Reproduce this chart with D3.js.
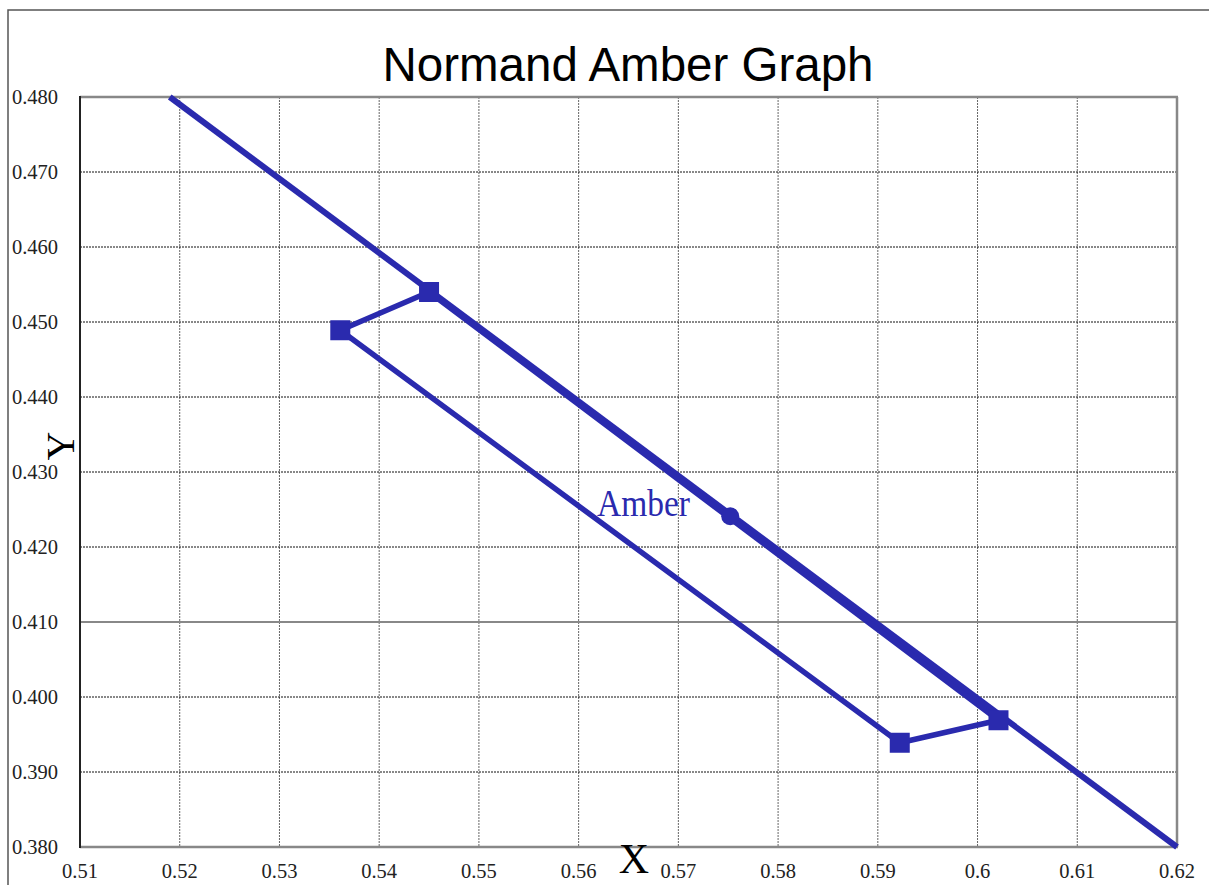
<!DOCTYPE html>
<html><head><meta charset="utf-8">
<script src="https://cdn.jsdelivr.net/npm/d3@7"></script>
<style>html,body{margin:0;padding:0;background:#fff;}svg{display:block;}</style>
</head><body>
<svg id="c" width="1209" height="885"></svg>
<script>
const xTicks = [0.51,0.52,0.53,0.54,0.55,0.56,0.57,0.58,0.59,0.6,0.61,0.62];
const yTicks = [0.380,0.390,0.400,0.410,0.420,0.430,0.440,0.450,0.460,0.470,0.480];
const boundaryX = [0.519, 0.62];
const boundaryY = [0.480, 0.380];
const polyX = [0.5361, 0.5450, 0.6021, 0.5922, 0.5361];
const polyY = [0.4489, 0.4540, 0.3969, 0.3939, 0.4489];
const centerX = [0.5752];
const centerY = [0.4241];
const labels = ["Amber"];

const svg = d3.select("#c");
const L=80,R=1177,T=97,B=847;
const x = d3.scaleLinear().domain([0.51,0.62]).range([L,R]);
const y = d3.scaleLinear().domain([0.38,0.48]).range([B,T]);
const col = "#2a2aae";

svg.append("rect").attr("x",8).attr("y",10).attr("width",1250).attr("height",950)
  .attr("fill","none").attr("stroke","#555").attr("stroke-width",1.5);

svg.append("text").attr("x",628).attr("y",81).attr("text-anchor","middle")
  .attr("font-family","Liberation Sans, Arial, sans-serif").attr("font-size",47.5).attr("fill","#000")
  .text("Normand Amber Graph");

// grid
const g = svg.append("g");
g.selectAll(".vg").data(xTicks.slice(1,-1)).join("line")
  .attr("x1",d=>x(d)).attr("x2",d=>x(d)).attr("y1",T).attr("y2",B)
  .attr("stroke","#666").attr("stroke-width",1).attr("stroke-dasharray","2,1");
g.selectAll(".hg").data(yTicks.slice(1,-1).filter(d=>Math.abs(d-0.41)>1e-6)).join("line")
  .attr("x1",L).attr("x2",R).attr("y1",d=>y(d)).attr("y2",d=>y(d))
  .attr("stroke","#111").attr("stroke-width",1).attr("stroke-dasharray","2,1");
g.append("line").attr("x1",L).attr("x2",R).attr("y1",y(0.41)).attr("y2",y(0.41))
  .attr("stroke","#888").attr("stroke-width",2);

// frame
g.append("line").attr("x1",L).attr("x2",R+1).attr("y1",T).attr("y2",T).attr("stroke","#888").attr("stroke-width",2.5);
g.append("line").attr("x1",L).attr("x2",R+1).attr("y1",B).attr("y2",B).attr("stroke","#888").attr("stroke-width",2.5);
g.append("line").attr("x1",R).attr("x2",R).attr("y1",T).attr("y2",B).attr("stroke","#888").attr("stroke-width",2.5);
g.append("line").attr("x1",L).attr("x2",L).attr("y1",T-1).attr("y2",B+1).attr("stroke","#222").attr("stroke-width",2);

// tick labels
svg.selectAll(".xl").data(xTicks).join("text")
  .attr("x",d=>x(d)).attr("y",878).attr("text-anchor","middle")
  .attr("font-family","Liberation Serif, Times New Roman, serif").attr("font-size",20.5).attr("fill","#222")
  .text(d=>d3.format("")(+d.toFixed(2)));
svg.selectAll(".yl").data(yTicks).join("text")
  .attr("x",58).attr("y",d=>y(d)+7).attr("text-anchor","end")
  .attr("font-family","Liberation Serif, Times New Roman, serif").attr("font-size",20.5).attr("fill","#222")
  .text(d=>d.toFixed(3));

// axis titles
svg.append("text").attr("x",634).attr("y",873).attr("text-anchor","middle")
  .attr("font-family","Liberation Serif, Times New Roman, serif").attr("font-size",42).attr("fill","#000").text("X");
svg.append("text").attr("transform","translate(74,446) rotate(-90)").attr("text-anchor","middle")
  .attr("font-family","Liberation Serif, Times New Roman, serif").attr("font-size",40).attr("fill","#000").text("Y");

// data
svg.append("clipPath").attr("id","pc").append("rect").attr("x",L).attr("y",T-3).attr("width",R-L+3).attr("height",B-T+6);
const line = d3.line().x(d=>x(d[0])).y(d=>y(d[1]));
svg.append("path").attr("clip-path","url(#pc)")
  .attr("d",line(boundaryX.map((v,i)=>[v,boundaryY[i]])))
  .attr("fill","none").attr("stroke",col).attr("stroke-width",6);
svg.append("path").attr("d",line(polyX.map((v,i)=>[v,polyY[i]])))
  .attr("fill","none").attr("stroke",col).attr("stroke-width",5.5).attr("stroke-linejoin","round");
svg.selectAll(".sq").data(polyX.slice(0,4).map((v,i)=>[v,polyY[i]])).join("rect")
  .attr("x",d=>x(d[0])-10).attr("y",d=>y(d[1])-10).attr("width",20).attr("height",20).attr("fill",col);
svg.selectAll(".ct").data(centerX.map((v,i)=>[v,centerY[i]])).join("circle")
  .attr("cx",d=>x(d[0])).attr("cy",d=>y(d[1])).attr("r",9).attr("fill",col);
svg.append("text").attr("x",597).attr("y",516)
  .attr("font-family","Liberation Serif, Times New Roman, serif").attr("font-size",38).attr("fill",col)
  .attr("textLength",93).attr("lengthAdjust","spacingAndGlyphs").text(labels[0]);
</script>
</body></html>
